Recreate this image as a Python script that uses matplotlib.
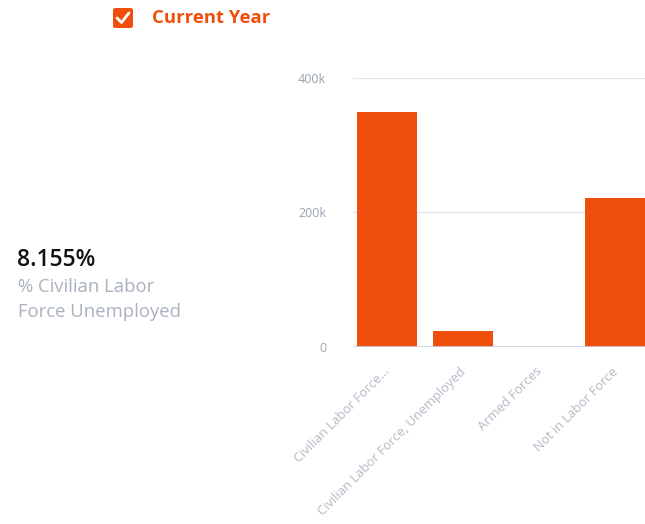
import matplotlib
matplotlib.use("Agg")
import matplotlib.pyplot as plt
import matplotlib.transforms as mtransforms
from matplotlib.patches import FancyBboxPatch
from matplotlib.lines import Line2D

plt.rcParams["font.family"] = ["Open Sans", "DejaVu Sans"]

categories = ["Civilian Labor Force...", "Civilian Labor Force, Unemployed",
              "Armed Forces", "Not in Labor Force"]
values = [349000, 24000, 300, 221500]
yticks = [0, 200000, 400000]
ytick_labels = ["0", "200k", "400k"]

orange = "#f04e0c"
grey_text = "#9aa3b2"

fig = plt.figure(figsize=(6.45, 5.24), dpi=100)
ax = fig.add_axes([0.547, 0.338, 0.453, 0.513])

x = list(range(len(categories)))
ax.bar(x, values, width=0.79, color=orange, zorder=3)
ax.set_xlim(-0.45, 3.39)
ax.set_ylim(0, 400000)
ax.set_yticks(yticks)
ax.set_yticklabels(ytick_labels, color=grey_text, fontsize=9)
ax.yaxis.grid(True, color="#e2e5ea", linewidth=1, zorder=0)
ax.axhline(0, color="#c9d2e3", linewidth=1.2, zorder=4)
ax.tick_params(axis="y", length=0, pad=19)
ax.tick_params(axis="x", length=0, pad=13)
ax.set_xticks(x)
ax.set_xticklabels(categories, rotation=45, ha="right", rotation_mode="anchor",
                   color="#b3bac6", fontsize=9.4)
shift = mtransforms.ScaledTranslation(-4 / 100, 0, fig.dpi_scale_trans)
for lbl in ax.get_xticklabels():
    lbl.set_transform(lbl.get_transform() + shift)
for s in ax.spines.values():
    s.set_visible(False)

# legend
box = FancyBboxPatch((113 / 645, 1 - 28 / 524), 20 / 645, 20 / 524,
                     boxstyle="round,pad=0,rounding_size=0.004",
                     transform=fig.transFigure, facecolor=orange, edgecolor="none")
fig.patches.append(box)
fig.lines.append(Line2D([117 / 645, 121.5 / 645, 129 / 645],
                        [1 - 18 / 524, 1 - 22.5 / 524, 1 - 13 / 524],
                        transform=fig.transFigure, color="white", linewidth=2,
                        solid_capstyle="round", solid_joinstyle="round"))
fig.text(152 / 645, 1 - 18 / 524, "Current Year", color=orange, fontsize=13.3,
         fontweight="bold", ha="left", va="center")

# side stat
fig.text(17 / 645, 1 - 260 / 524, "8.155%", color="#111111", fontsize=16.5,
         fontweight="semibold", ha="left", va="center")
fig.text(18 / 645, 1 - 287 / 524, "% Civilian Labor", color="#a9b1be", fontsize=13.3,
         ha="left", va="center")
fig.text(18 / 645, 1 - 312 / 524, "Force Unemployed", color="#a9b1be", fontsize=13.3,
         ha="left", va="center")

fig.savefig("out.png", dpi=100, facecolor="white")
